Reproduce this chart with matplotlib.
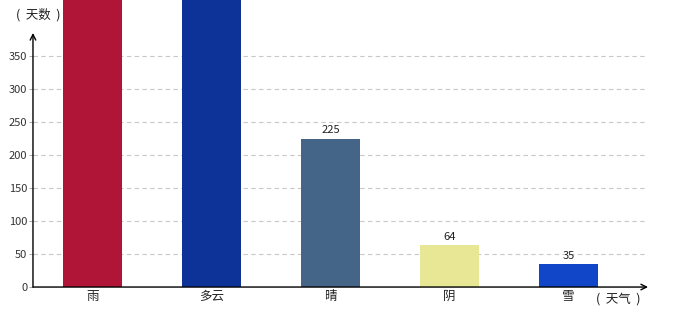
import matplotlib.pyplot as plt

plt.rcParams['font.family'] = ['Noto Sans CJK SC', 'DejaVu Sans']

weather = ['雨', '多云', '晴', '阴', '雪']
days = [480, 470, 225, 64, 35]
colors = ['#B01538', '#0D3399', '#446587', '#E8E796', '#1146C8']
yticks = [0, 50, 100, 150, 200, 250, 300, 350]

fig = plt.figure(figsize=(6.8, 3.2), dpi=100)
ax = fig.add_axes([0.0485, 0.103, 0.9045, 0.794])

x = list(range(len(weather)))
bars = ax.bar(x, days, width=0.5, color=colors, zorder=2, clip_on=False)
for b, v in zip(bars, days):
    if v < 385:
        ax.text(b.get_x() + b.get_width() / 2, v + 5, str(v), ha='center', va='bottom',
                fontsize=8, color='#222222')

ax.set_xlim(-0.5, 4.67)
ax.set_ylim(0, 385)
ax.set_xticks(x)
ax.set_xticklabels(weather, fontsize=9, color='#222222')
ax.set_yticks(yticks)
ax.set_yticklabels([str(t) for t in yticks], fontsize=8, color='#333333')
ax.tick_params(axis='x', length=0, pad=2)
ax.tick_params(axis='y', length=3, width=0.6, pad=1, color='#999999')

for t in yticks[1:]:
    ax.axhline(t, xmax=0.995, color='#c8c8c8', lw=0.8, ls=(0, (4, 3)), zorder=1)

for s in ax.spines.values():
    s.set_visible(False)

ax.annotate('', xy=(0, 1), xytext=(0, 0), xycoords='axes fraction',
            arrowprops=dict(arrowstyle='->', color='black', lw=1, shrinkA=0, shrinkB=0))
ax.annotate('', xy=(1, 0), xytext=(0, 0), xycoords='axes fraction',
            arrowprops=dict(arrowstyle='->', color='black', lw=1, shrinkA=0, shrinkB=0))

fig.text(16 / 680, 1 - 15 / 320, '(  天数  )', fontsize=9, color='#222222', va='center', ha='left')
fig.text(596 / 680, 1 - 299 / 320, '(  天气  )', fontsize=9, color='#222222', va='center', ha='left')

fig.savefig('out.png', dpi=100)
